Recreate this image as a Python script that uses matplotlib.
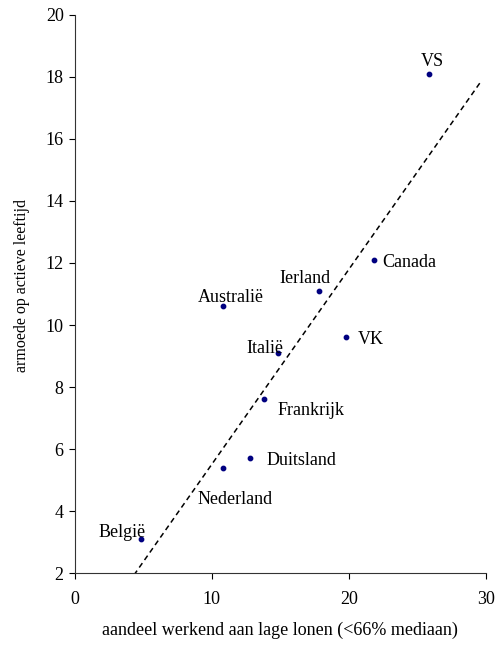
import matplotlib
matplotlib.use('Agg')
import matplotlib.pyplot as plt
import numpy as np

# share of low-paid workers vs working-age poverty
landen = ['VS', 'Canada', 'Ierland', 'Australië', 'VK', 'Italië',
          'Frankrijk', 'Nederland', 'Duitsland', 'België']
lage_lonen = [25.8, 21.8, 17.8, 10.8, 19.8, 14.8, 13.8, 10.8, 12.8, 4.8]
armoede = [18.1, 12.1, 11.1, 10.6, 9.6, 9.1, 7.6, 5.4, 5.7, 3.1]

# trend line
trend_slope = 0.629
trend_intercept = -0.78
trend_x_end = 29.66

# label offsets in pixels (dx, dy, ha)
offsets = {
    'VS': (4, 12, 'center'),
    'Canada': (9, -3, 'left'),
    'Ierland': (-14, 12, 'center'),
    'Australië': (8, 9, 'center'),
    'VK': (12, -2, 'left'),
    'Italië': (-13, 4, 'center'),
    'Frankrijk': (14, -11, 'left'),
    'Nederland': (12, -32, 'center'),
    'Duitsland': (16, -2, 'left'),
    'België': (-18, 6, 'center'),
}

plt.rcParams['font.family'] = ['Liberation Serif', 'DejaVu Serif']

fig = plt.figure(figsize=(4.95, 6.49), dpi=100)
ax = fig.add_axes([0.151, 0.117, 0.831, 0.860])

tx = np.array([0.0, trend_x_end])
ax.plot(tx, trend_slope * tx + trend_intercept, color='black',
        linestyle=(0, (3.5, 2.5)), linewidth=1.1)

ax.scatter(lage_lonen, armoede, s=10, color='#000080', zorder=3)

for naam, x, y in zip(landen, lage_lonen, armoede):
    dx, dy, ha = offsets[naam]
    ax.annotate(naam, (x, y), xytext=(dx, dy), textcoords='offset pixels',
                ha=ha, va='center', fontsize=13)

ax.set_xlim(0, 30)
ax.set_ylim(2, 20)
ax.set_xticks([0, 10, 20, 30])
ax.set_yticks(range(2, 21, 2))
ax.tick_params(direction='out', length=4, width=0.8, labelsize=13)
ax.tick_params(axis='x', pad=9)
ax.tick_params(axis='y', pad=4)
ax.spines['top'].set_visible(False)
ax.spines['right'].set_visible(False)
ax.spines['left'].set_color('#333333')
ax.spines['bottom'].set_color('#333333')

ax.set_xlabel('aandeel werkend aan lage lonen (<66% mediaan)', fontsize=13,
              labelpad=10)
ax.set_ylabel('armoede op actieve leeftijd', fontsize=11.5)
ax.yaxis.set_label_coords(-0.108, 0.516)

fig.savefig('out.png', dpi=100)
